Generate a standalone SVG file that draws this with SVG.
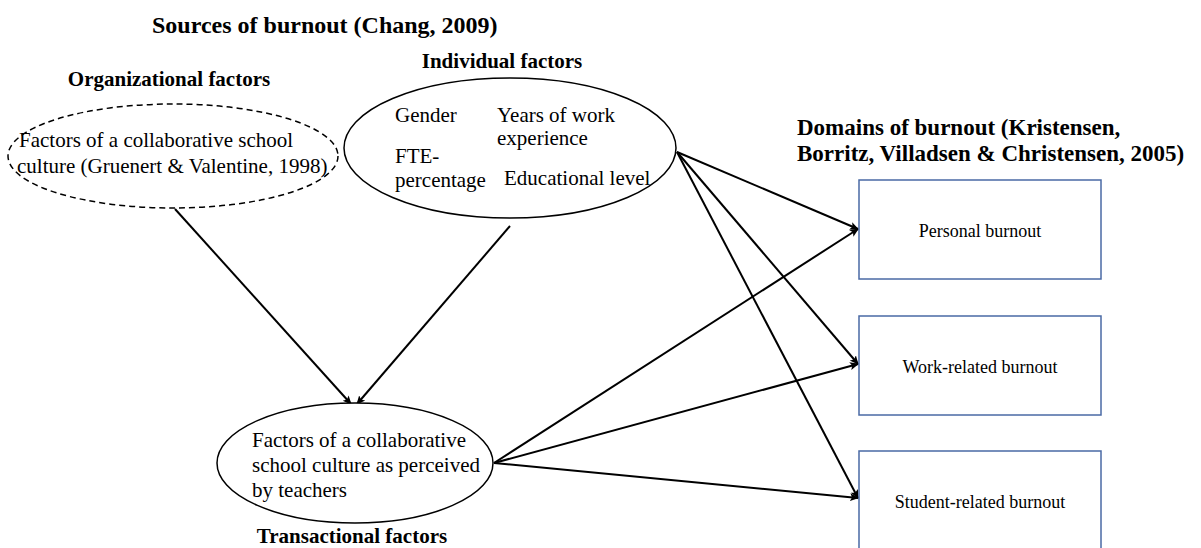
<svg xmlns="http://www.w3.org/2000/svg" width="1201" height="548" viewBox="0 0 1201 548">
<style>
.t{font-family:"Liberation Serif","Times New Roman",serif;fill:#000}
.h{font-weight:bold}
.r{font-size:21px}
.e{fill:#fff;stroke:#000;stroke-width:1.5}
.b{fill:#fff;stroke:#4a6aa5;stroke-width:1.5}
.c{stroke:#000;stroke-width:2;fill:none;marker-end:url(#ah)}
</style>
<defs>
<marker id="ah" markerWidth="10" markerHeight="10" refX="8" refY="5" orient="auto" markerUnits="userSpaceOnUse">
<path d="M0,1 L9,5 L0,9 L2,5 Z" fill="#000"/>
</marker>
</defs>
<rect width="1201" height="548" fill="#fff"/>
<text class="t h" x="152" y="33" font-size="24">Sources of burnout (Chang, 2009)</text>
<text class="t h" x="169" y="86" font-size="21" text-anchor="middle">Organizational factors</text>
<text class="t h" x="502" y="68" font-size="21" text-anchor="middle">Individual factors</text>
<text class="t h" x="352" y="543" font-size="21" text-anchor="middle">Transactional factors</text>
<text class="t h" x="797" y="135" font-size="23">Domains of burnout (Kristensen,</text>
<text class="t h" x="797" y="161" font-size="23">Borritz, Villadsen &amp; Christensen, 2005)</text>
<g id="connectors">
<line class="c" x1="175" y1="209" x2="351" y2="404"/>
<line class="c" x1="510" y1="226" x2="357" y2="404"/>
<line class="c" x1="677" y1="152" x2="858" y2="229"/>
<line class="c" x1="677" y1="152" x2="858" y2="364"/>
<line class="c" x1="677" y1="152" x2="858" y2="498"/>
<line class="c" x1="494" y1="463" x2="858" y2="229"/>
<line class="c" x1="494" y1="463" x2="858" y2="364"/>
<line class="c" x1="494" y1="463" x2="858" y2="498"/>
</g>
<g id="organizational">
<ellipse class="e" cx="173" cy="156" rx="165" ry="52" stroke-dasharray="6,4"/>
<text class="t r" x="19" y="147">Factors of a collaborative school</text>
<text class="t r" x="17" y="173">culture (Gruenert &amp; Valentine, 1998)</text>
</g>
<g id="individual">
<ellipse class="e" cx="510" cy="148" rx="166" ry="70"/>
<text class="t r" x="395" y="122">Gender</text>
<text class="t r" x="497" y="122">Years of work</text>
<text class="t r" x="497" y="145">experience</text>
<text class="t r" x="395" y="163">FTE-</text>
<text class="t r" x="395" y="187">percentage</text>
<text class="t r" x="504" y="185">Educational level</text>
</g>
<g id="transactional">
<ellipse class="e" cx="355" cy="463" rx="138" ry="60"/>
<text class="t r" x="252" y="447">Factors of a collaborative</text>
<text class="t r" x="252" y="472">school culture as perceived</text>
<text class="t r" x="252" y="497">by teachers</text>
</g>
<g id="personal">
<rect class="b" x="859" y="180" width="242" height="99"/>
<text class="t" x="980" y="237" font-size="18" text-anchor="middle">Personal burnout</text>
</g>
<g id="work">
<rect class="b" x="859" y="316" width="242" height="99"/>
<text class="t" x="980" y="373" font-size="18" text-anchor="middle">Work-related burnout</text>
</g>
<g id="student">
<rect class="b" x="859" y="451" width="242" height="110"/>
<text class="t" x="980" y="508" font-size="18" text-anchor="middle">Student-related burnout</text>
</g>
</svg>
